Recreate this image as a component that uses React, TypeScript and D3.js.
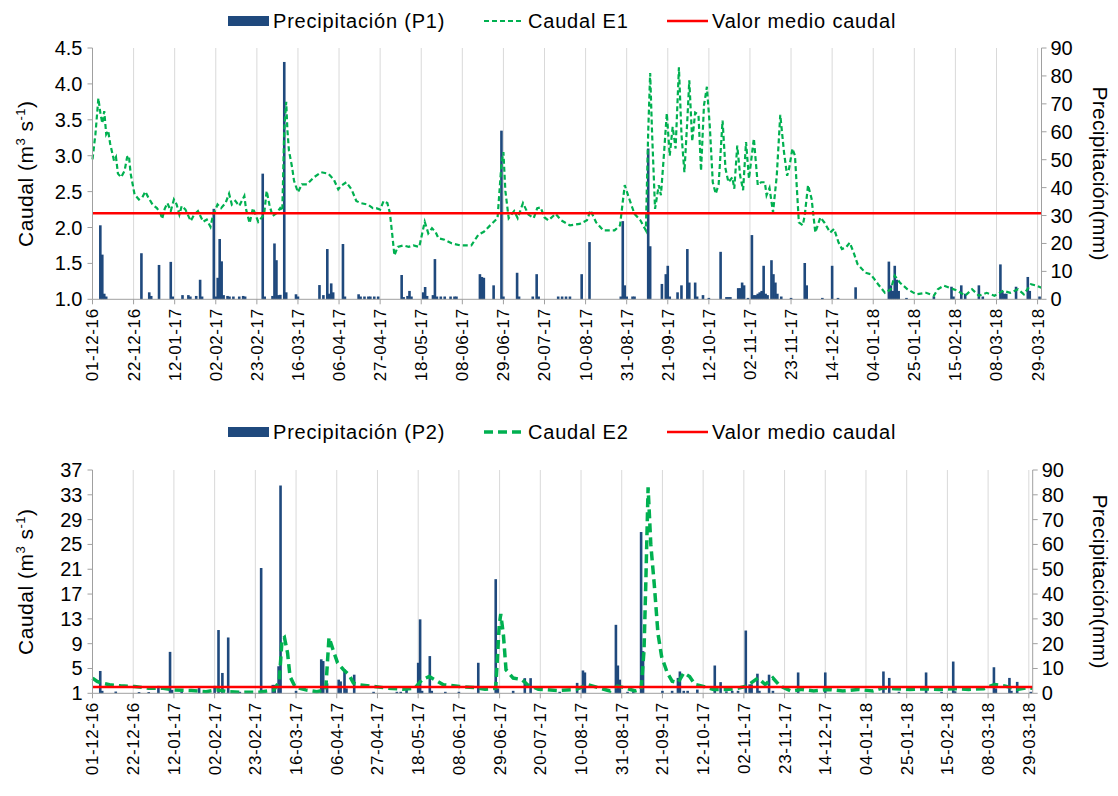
import * as d3 from 'd3';

// x axis tick labels (every 21 days)
const tickLabels = [
  '01-12-16', '22-12-16', '12-01-17', '02-02-17', '23-02-17', '16-03-17', '06-04-17', '27-04-17',
  '18-05-17', '08-06-17', '29-06-17', '20-07-17', '10-08-17', '31-08-17', '21-09-17', '12-10-17',
  '02-11-17', '23-11-17', '14-12-17', '04-01-18', '25-01-18', '15-02-18', '08-03-18', '29-03-18',
];
const startLabel = '01-12-16';
const endLabel = '31-03-18';

// precipitation P1: [day since 01-12-16, mm]
const precipP1 = [
  [4, 26.5], [5, 16], [6, 2], [7, 1], [25, 16.5], [29, 2.5], [30, 1.2], [34, 12.3], [40, 13.4], [41, 1],
  [46, 1.5], [49, 1.5], [50, 1], [53, 1.2], [55, 7], [56, 1], [62, 32.4], [63, 1], [64, 7.7], [65, 21.6],
  [66, 13.6], [67, 1.5], [69, 1.2], [70, 1], [72, 1], [75, 1], [77, 1.2], [78, 1], [87, 45], [88, 1],
  [92, 1.2], [93, 20], [94, 14], [95, 1.5], [96, 1.6], [98, 85], [99, 2.5], [104, 1.8], [105, 1],
  [116, 5.1], [118, 1.5], [120, 18], [121, 2], [122, 5.7], [123, 2.5], [128, 19.8], [129, 1],
  [136, 1.8], [137, 1], [139, 1], [141, 1], [142, 1], [144, 1], [146, 1], [158, 8.7], [159, 0.8],
  [161, 1.2], [162, 3], [163, 1], [169, 2.5], [170, 4.4], [171, 1.2], [174, 1.5], [175, 14.4], [176, 1],
  [178, 1], [180, 1], [183, 1], [185, 1], [186, 1], [198, 9], [199, 8], [200, 7.7], [205, 5], [209, 60.4],
  [210, 1], [217, 9.5], [218, 1], [225, 1], [227, 9], [228, 1], [238, 1], [240, 1], [242, 1], [244, 1],
  [250, 9], [254, 20.5], [270, 1], [271, 28], [272, 5], [273, 1], [276, 1], [277, 1], [284, 54], [285, 19],
  [291, 5.5], [293, 9], [294, 12], [295, 1], [299, 2.5], [301, 5], [304, 18], [305, 6], [308, 6], [309, 1],
  [312, 1.5], [315, 0.5], [321, 17], [324, 0.8], [325, 0.8], [326, 0.8], [330, 4], [331, 4], [332, 6],
  [333, 5], [335, 0.5], [337, 23], [338, 1.5], [339, 1.5], [340, 2], [341, 2.5], [342, 3], [343, 12],
  [344, 2], [345, 1.5], [347, 14], [348, 9], [349, 6], [350, 2], [352, 1], [357, 0.5], [364, 13], [365, 5],
  [373, 0.5], [378, 12], [381, 0.5], [390, 4.3], [407, 13.5], [408, 5], [409, 3], [410, 12], [411, 7],
  [412, 3], [416, 0.5], [430, 1], [439, 4.5], [440, 1], [444, 5], [446, 2], [453, 5], [455, 1],
  [464, 12.5], [465, 3], [466, 2], [467, 2], [472, 4.5], [478, 8], [479, 3], [484, 1],
];

// caudal E1: [day, m3/s]
const caudalE1 = [
  [0, 2.95], [1.5, 3.3], [3, 3.8], [4, 3.6], [5, 3.45], [6, 3.62], [7, 3.3], [8, 3.35], [9, 3.17], [11, 2.93],
  [12, 2.98], [13, 2.75], [14.6, 2.7], [16.4, 2.79], [17.7, 2.98], [18.6, 3.0], [19.5, 2.75], [21.5, 2.46],
  [23.7, 2.39], [25.5, 2.42], [27, 2.5], [28.5, 2.42], [30.7, 2.32], [32.9, 2.27], [34.7, 2.2], [35.6, 2.12],
  [36.9, 2.26], [38.3, 2.34], [40, 2.23], [41.6, 2.39], [43, 2.32], [44.4, 2.18], [45.6, 2.3], [47.5, 2.25],
  [50.2, 2.09], [52, 2.18], [53.9, 2.23], [56.6, 2.08], [58.4, 2.11], [60.3, 2.01], [61.5, 2.16], [63.9, 2.32],
  [65.7, 2.27], [68, 2.34], [69.8, 2.47], [71.2, 2.32], [73, 2.37], [75, 2.3], [77.6, 2.44], [78.5, 2.25],
  [80.3, 2.06], [82, 2.27], [83, 2.2], [84.7, 2.08], [87.7, 2.18], [89, 2.51], [90.4, 2.32], [92, 2.16],
  [94, 2.2], [95.9, 2.27], [97, 2.23], [98, 3.36], [99, 3.75], [99.6, 3.36], [100.4, 3.07], [102, 2.84],
  [103, 2.65], [105, 2.49], [107, 2.6], [109.6, 2.6], [113.2, 2.7], [116.9, 2.77], [120.5, 2.75], [123.3, 2.67],
  [125.6, 2.53], [127, 2.58], [129.7, 2.63], [132.4, 2.53], [134.8, 2.37], [137, 2.34], [140.6, 2.32],
  [143.3, 2.27], [145, 2.27], [147, 2.25], [148.8, 2.37], [150.7, 2.34], [152, 2.2], [153.4, 1.85],
  [154.3, 1.61], [156, 1.73], [158.9, 1.75], [161.6, 1.73], [164, 1.75], [167, 1.73], [169.8, 2.08],
  [171.6, 1.92], [173.5, 1.99], [175.3, 1.94], [176.8, 1.85], [179.9, 1.83], [183.5, 1.78], [188, 1.75],
  [193.6, 1.75], [197.2, 1.9], [200, 1.94], [203.6, 2.04], [207, 2.13], [209, 2.89], [210, 3.05], [211, 2.51],
  [212.7, 2.13], [215.5, 2.23], [217.3, 2.13], [220, 2.34], [222.8, 2.18], [225.5, 2.13], [227.3, 2.27],
  [229, 2.28], [231, 2.14], [233, 2.1], [236.7, 2.19], [239.5, 2.1], [244, 2.03], [249, 2.05], [252.7, 2.1],
  [254.5, 2.24], [257.4, 2.07], [261, 1.96], [266.8, 1.96], [269.6, 2.03], [272, 2.59], [274.3, 2.4],
  [277, 2.19], [280, 2.1], [282.8, 1.96], [284, 3.33], [285, 4.15], [286, 3.3], [287.5, 2.26], [289.4, 2.59],
  [290.5, 2.45], [292, 3.0], [293.5, 3.59], [295, 3.0], [296.5, 3.4], [298, 3.1], [299.7, 4.23], [301, 3.3],
  [302.5, 2.77], [304, 3.5], [305, 4.05], [306.5, 3.2], [308, 3.6], [309.7, 3.57], [311, 2.79], [312.5, 3.7],
  [314, 3.96], [315.5, 3.4], [317, 2.63], [318.5, 2.47], [320, 2.6], [322, 3.49], [323.5, 2.82], [325, 2.63],
  [327, 2.7], [328, 2.54], [329.5, 3.14], [331, 2.72], [332.5, 2.52], [334, 3.19], [335.5, 2.68], [338, 3.24],
  [340, 2.59], [341.7, 2.63], [343.6, 2.63], [344.5, 2.45], [346, 2.55], [347.8, 2.21], [349.7, 2.72],
  [351.5, 3.57], [353.4, 3.05], [355, 2.72], [356, 2.82], [357.7, 3.1], [359, 3.0], [361, 2.07], [363, 2.03],
  [364, 2.17], [365.7, 2.59], [367.5, 2.4], [369.4, 1.93], [372, 2.14], [374, 2.07], [377, 1.93], [379, 1.98],
  [381.3, 1.79], [383, 1.7], [385, 1.72], [387, 1.79], [389, 1.65], [391, 1.49], [395, 1.37], [397.7, 1.35],
  [399.6, 1.28], [401.5, 1.21], [405, 1.09], [408, 1.14], [410, 1.33], [412.7, 1.23], [416.5, 1.14],
  [421, 1.07], [426, 1.09], [430, 1.05], [432, 1.14], [435, 1.19], [438, 1.16], [442, 1.12], [446, 1.05],
  [449.5, 1.14], [453, 1.05], [457, 1.09], [461, 1.05], [465.5, 1.12], [469, 1.09], [473, 1.14], [476, 1.07],
  [479.6, 1.21], [482.6, 1.19], [485, 1.16],
];

// precipitation P2: [day, mm]
const precipP2 = [
  [4, 9], [5, 1], [12, 0.7], [24, 0.5], [29, 0.5], [34, 3], [40, 16.7], [41, 1.4], [46, 0.6], [55, 2.5],
  [63, 3], [65, 25.5], [67, 8.2], [70, 22.5], [76, 0.6], [81, 0.6], [87, 50.5], [93, 3.4], [94, 3.4],
  [96, 10.9], [97, 83.75], [105, 1], [118, 13.7], [119, 13], [121, 4], [127, 5.5], [128, 4.8], [130, 9.6],
  [131, 2], [135, 7.5], [145, 0.6], [157, 0.6], [159, 0.6], [162, 1.4], [168, 12.3], [169, 29.8], [170, 1],
  [174, 15], [175, 1], [182, 0.6], [189, 0.6], [199, 12.3], [208, 46], [209, 2], [217, 1], [223, 6.1],
  [226, 6.1], [241, 0.6], [250, 4.2], [253, 9.2], [254, 8.4], [270, 27.6], [271, 11.2], [272, 5.5],
  [276, 0.6], [279, 0.6], [283, 65], [284, 17], [294, 1], [299, 1], [302, 6.2], [303, 8.8], [305, 1],
  [307, 1], [312, 1.5], [321, 11.2], [324, 4.5], [327, 0.8], [330, 1], [333, 1], [337, 25.3], [339, 3.6],
  [340, 3.6], [343, 7.9], [344, 1], [349, 7.5], [351, 1], [364, 8.4], [378, 8.4], [408, 8.8], [411, 6.2],
  [416, 0.6], [430, 8.4], [438, 0.6], [444, 12.8], [445, 0.8], [465, 10.5], [466, 2], [473, 6.2], [474, 1],
  [477, 4.6], [484, 0.6],
];

// caudal E2: [day, m3/s]
const caudalE2 = [
  [0, 3.46], [2.4, 2.9], [5, 2.64], [8.8, 2.37], [14.4, 2.2], [21.7, 2.1], [29, 1.82], [36.5, 1.82], [42, 1.55],
  [51, 1.44], [58.6, 1.27], [64, 1.55], [69.6, 1.27], [77, 1.16], [86, 1.16], [93.6, 1.55], [96.3, 2.9],
  [97.8, 9.7], [99, 10], [100.6, 7.55], [101.9, 3.7], [104.6, 2.0], [110, 1.55], [115.7, 1.27], [120.3, 1.55],
  [122, 10], [124, 8.1], [126.4, 5.9], [129.5, 4.8], [132.3, 4.0], [134.6, 2.64], [137.8, 2.37], [145, 2.1],
  [152.5, 1.82], [160, 1.66], [166.3, 1.82], [170, 3.2], [173.7, 3.7], [176.5, 3.2], [181, 2.37], [189.4, 2.1],
  [196.8, 1.93], [202.5, 1.66], [208, 1.82], [209.8, 11.9], [210.6, 13.8], [212, 10.3], [213.3, 4.8],
  [217, 3.46], [221.6, 3.2], [224.4, 2.37], [230, 1.66], [240, 1.45], [249.7, 1.63], [255.4, 2.42], [261, 1.9],
  [267, 1.37], [270.7, 2.16], [274.5, 1.9], [280, 1.37], [283, 1.63], [284.5, 7.9], [285.4, 18.5],
  [286.6, 34.2], [288, 25], [289.8, 18.5], [291.7, 10.6], [293.6, 6.9], [296.5, 4.3], [299, 2.95], [302, 2.7],
  [305, 4.3], [308, 3.7], [310.8, 2.42], [314.6, 2.16], [320.4, 1.63], [326, 1.63], [331.8, 1.74],
  [337.5, 2.16], [343.3, 3.47], [347, 2.42], [351, 3.47], [354.7, 2.16], [360.4, 1.37], [366, 1.63],
  [372, 1.37], [379.5, 1.63], [387, 1.37], [394.8, 1.63], [402.4, 1.37], [408, 1.9], [414, 1.74],
  [421.5, 1.63], [429, 1.74], [436.8, 1.63], [444.4, 1.74], [452, 1.63], [459.7, 1.74], [465.4, 2.42],
  [471, 2.16], [477, 1.63], [482.6, 1.9], [485, 1.8],
];

const meanE1 = 2.2;
const meanE2 = 2.0;
const leftTicksE1 = [1, 1.5, 2, 2.5, 3, 3.5, 4, 4.5];
const leftTicksE2 = [1, 5, 9, 13, 17, 21, 25, 29, 33, 37];
const rightTicks = [0, 10, 20, 30, 40, 50, 60, 70, 80, 90];

const FONT = "'Liberation Sans', Arial, Helvetica, sans-serif";
const BAR = '#1f497d';
const GREEN = '#00b050';
const RED = '#ff0000';
const GRID = '#d9d9d9';
const AXIS = '#a0a0a0';

const parse = d3.utcParse('%d-%m-%y');
const start = parse(startLabel);
const end = parse(endLabel);
const dayToDate = (d) => new Date(start.getTime() + d * 864e5);

function Panel({ box, leftTicks, leftFmt, precip, caudal, mean, pLabel, qLabel, dash, lineW, legendY }) {
  const x = d3.scaleUtc().domain([start, end]).range([box.x0, box.x1]);
  const yL = d3.scaleLinear().domain([leftTicks[0], leftTicks[leftTicks.length - 1]]).range([box.y1, box.y0]);
  const yR = d3.scaleLinear().domain([0, 90]).range([box.y1, box.y0]);
  const line = d3.line().x(d => x(dayToDate(d[0]))).y(d => yL(d[1]));
  const midY = (box.y0 + box.y1) / 2;
  const barW = 2.6;
  const fmt = d3.format(leftFmt);

  return (
    <g>
      {/* gridlines */}
      {tickLabels.map((t, i) => i === 0 ? null : (
        <line key={t} x1={x(parse(t))} x2={x(parse(t))} y1={box.y0} y2={box.y1} stroke={GRID} strokeWidth={1} />
      ))}
      {/* bars */}
      {precip.map((d, i) => (
        <rect key={i} x={x(dayToDate(d[0])) - barW / 2} width={barW} y={yR(d[1])} height={box.y1 - yR(d[1])} fill={BAR} />
      ))}
      <path d={line(caudal)} fill="none" stroke={GREEN} strokeWidth={lineW} strokeDasharray={dash} />
      <line x1={box.x0} x2={box.x1} y1={yL(mean)} y2={yL(mean)} stroke={RED} strokeWidth={2.5} />

      {/* axes */}
      <line x1={box.x0} x2={box.x1} y1={box.y1} y2={box.y1} stroke={AXIS} />
      <line x1={box.x0} x2={box.x0} y1={box.y0} y2={box.y1} stroke={AXIS} />
      <line x1={box.x1} x2={box.x1} y1={box.y0} y2={box.y1} stroke={AXIS} />
      {tickLabels.map(t => {
        const xx = x(parse(t));
        return (
          <g key={t}>
            <line x1={xx} x2={xx} y1={box.y1} y2={box.y1 + 5} stroke={AXIS} />
            <text transform={`translate(${xx},${box.y1 + 9}) rotate(-90)`} textAnchor="end" dy="0.35em"
              fontSize={17} fontFamily={FONT} letterSpacing={0.6} fill="#000">{t}</text>
          </g>
        );
      })}
      {leftTicks.map(v => (
        <g key={v}>
          <line x1={box.x0 - 5} x2={box.x0} y1={yL(v)} y2={yL(v)} stroke={AXIS} />
          <text x={box.x0 - 10} y={yL(v)} dy="0.35em" textAnchor="end" fontSize={20} fontFamily={FONT}>{fmt(v)}</text>
        </g>
      ))}
      {rightTicks.map(v => (
        <g key={v}>
          <line x1={box.x1} x2={box.x1 + 5} y1={yR(v)} y2={yR(v)} stroke={AXIS} />
          <text x={box.x1 + 9} y={yR(v)} dy="0.35em" fontSize={20} fontFamily={FONT}>{v}</text>
        </g>
      ))}
      <text transform={`translate(26,${midY}) rotate(-90)`} textAnchor="middle" dy="0.35em" fontSize={21} fontFamily={FONT} letterSpacing={0.5}>
        Caudal (m<tspan fontSize={13} dy={-8}>3</tspan><tspan dy={8}> s</tspan><tspan fontSize={13} dy={-8}>-1</tspan><tspan dy={8}>)</tspan>
      </text>
      <text transform={`translate(1100,${midY}) rotate(90)`} textAnchor="middle" dy="0.35em" fontSize={21} fontFamily={FONT} letterSpacing={0.3}>
        Precipitación(mm)
      </text>

      {/* legend */}
      <rect x={228} y={legendY - 5} width={41} height={10} fill={BAR} />
      <text x={273} y={legendY} dy="0.35em" fontSize={20} fontFamily={FONT} letterSpacing={0.8}>{pLabel}</text>
      <line x1={484} x2={524} y1={legendY} y2={legendY} stroke={GREEN} strokeWidth={lineW} strokeDasharray={dash} />
      <text x={528} y={legendY} dy="0.35em" fontSize={20} fontFamily={FONT} letterSpacing={0.8}>{qLabel}</text>
      <line x1={667} x2={708} y1={legendY} y2={legendY} stroke={RED} strokeWidth={2.5} />
      <text x={712} y={legendY} dy="0.35em" fontSize={20} fontFamily={FONT} letterSpacing={0.8}>Valor medio caudal</text>
    </g>
  );
}

export default function App() {
  return (
    <svg width={1118} height={796} style={{ position: 'absolute', left: 0, top: 0, background: '#fff' }}>
      <rect width={1118} height={796} fill="#fff" />
      <Panel box={{ x0: 92.5, x1: 1041.5, y0: 48, y1: 299.3 }} leftTicks={leftTicksE1} leftFmt=".1f"
        precip={precipP1} caudal={caudalE1} mean={meanE1} pLabel="Precipitación (P1)" qLabel="Caudal E1"
        dash="5,3" lineW={2.2} legendY={21} />
      <Panel box={{ x0: 92.5, x1: 1032.7, y0: 470, y1: 693.3 }} leftTicks={leftTicksE2} leftFmt="d"
        precip={precipP2} caudal={caudalE2} mean={meanE2} pLabel="Precipitación (P2)" qLabel="Caudal E2"
        dash="9,5" lineW={3.5} legendY={432} />
    </svg>
  );
}
